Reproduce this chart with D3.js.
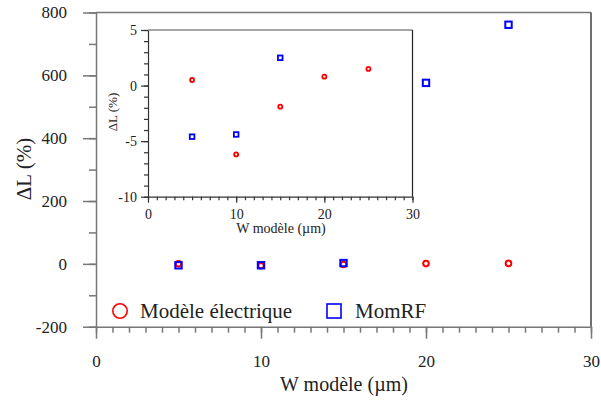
<!DOCTYPE html>
<html><head><meta charset="utf-8">
<script src="https://cdn.jsdelivr.net/npm/d3@7"></script>
<style>body{margin:0;background:#fff}svg{display:block}</style>
</head><body><svg id="c" width="601" height="401"></svg>
<script>
const widths = [5, 10, 15, 20, 25];
const electrique = [0.5, -6.2, -1.9, 0.8, 1.5];
const momrf = [-4.6, -4.4, 2.5, 576, 761];
const seriesNames = ["Modèle électrique", "MomRF"];
const mainYTicks = [-200, 0, 200, 400, 600, 800];
const xTicks = [0, 10, 20, 30];
const insetYTicks = [-10, -5, 0, 5];

const FONT = "'Liberation Serif', Tinos, 'Times New Roman', Times, serif";
const svg = d3.select("#c").attr("font-family", FONT);
const axisCol = "#777", frameCol = "#222";
const fmt = d => String(d);

// ---- main chart
const x = d3.scaleLinear().domain([0, 30]).range([96, 591]);
const y = d3.scaleLinear().domain([-200, 800]).range([326.7, 12.5]);

svg.append("line").attr("x1", x(0)).attr("x2", x(30)).attr("y1", y(800)).attr("y2", y(800)).attr("stroke", axisCol).attr("stroke-width", 1.5);
svg.append("line").attr("x1", x(30)).attr("x2", x(30)).attr("y1", y(800)).attr("y2", y(-200)).attr("stroke", frameCol).attr("stroke-width", 1.3);

const gy = svg.append("g").attr("transform", `translate(${x(0)},0)`);
gy.call(d3.axisLeft(y).tickValues(d3.range(-200, 801, 100)).tickSize(7).tickFormat(""));
gy.call(g => g.select(".domain").remove());
const gy2 = svg.append("g").attr("transform", `translate(${x(0)},0)`);
gy2.call(d3.axisLeft(y).tickValues(mainYTicks).tickSize(13).tickPadding(16).tickSizeOuter(0).tickFormat(fmt));
svg.selectAll("g").selectAll("line,path").attr("stroke", axisCol).attr("stroke-width", 1.5);
gy2.selectAll("text").attr("font-size", 17).attr("fill", "#222");

const gx = svg.append("g").attr("transform", `translate(0,${y(-200)})`);
gx.call(d3.axisBottom(x).tickValues(d3.range(0, 31, 1)).tickSize(6).tickFormat(""));
gx.call(g => g.select(".domain").remove());
const gx2 = svg.append("g").attr("transform", `translate(0,${y(-200)})`);
gx2.call(d3.axisBottom(x).tickValues(xTicks).tickSize(12).tickPadding(16).tickSizeOuter(0).tickFormat(fmt));
gx.selectAll("line").attr("stroke", axisCol).attr("stroke-width", 1.5);
gx2.selectAll("line,path").attr("stroke", axisCol).attr("stroke-width", 1.5);
gx2.selectAll("text").attr("font-size", 17).attr("fill", "#222");

svg.append("text").attr("x", 344).attr("y", 391).attr("text-anchor", "middle").attr("font-size", 20).attr("fill", "#222").text("W modèle (µm)");
svg.append("text").attr("transform", "translate(31,169) rotate(-90)").attr("text-anchor", "middle").attr("font-size", 21).attr("fill", "#222").text("ΔL (%)");

const pts = widths.map((w, i) => ({ w, e: electrique[i], m: momrf[i] }));
svg.append("g").selectAll("circle").data(pts).join("circle")
  .attr("cx", d => x(d.w)).attr("cy", d => y(d.e)).attr("r", 2.8)
  .attr("fill", "none").attr("stroke", "#f00").attr("stroke-width", 2);
svg.append("g").selectAll("rect").data(pts).join("rect")
  .attr("x", d => x(d.w) - 3.2).attr("y", d => y(d.m) - 3.2).attr("width", 6.4).attr("height", 6.4)
  .attr("fill", "none").attr("stroke", "#00f").attr("stroke-width", 2);

svg.append("circle").attr("cx", 120).attr("cy", 311).attr("r", 7.2).attr("fill", "none").attr("stroke", "#f00").attr("stroke-width", 1.6);
svg.append("text").attr("x", 140).attr("y", 318).attr("font-size", 21).attr("fill", "#222").text(seriesNames[0]);
svg.append("rect").attr("x", 327).attr("y", 304).attr("width", 14).attr("height", 14).attr("fill", "none").attr("stroke", "#00f").attr("stroke-width", 1.6);
svg.append("text").attr("x", 355).attr("y", 318).attr("font-size", 21).attr("fill", "#222").text(seriesNames[1]);

// ---- inset
const ix = d3.scaleLinear().domain([0, 30]).range([148, 412.5]);
const iy = d3.scaleLinear().domain([-10, 5]).range([196.7, 30]);
const ins = svg.append("g");
ins.append("rect").attr("x", ix(0)).attr("y", iy(5)).attr("width", ix(30) - ix(0)).attr("height", iy(-10) - iy(5)).attr("fill", "#fff");
ins.append("line").attr("x1", ix(0)).attr("x2", ix(30)).attr("y1", iy(5)).attr("y2", iy(5)).attr("stroke", "#888").attr("stroke-width", 1.5);
ins.append("line").attr("x1", ix(30)).attr("x2", ix(30)).attr("y1", iy(5)).attr("y2", iy(-10)).attr("stroke", frameCol).attr("stroke-width", 1.2);

const iy1 = ins.append("g").attr("transform", `translate(${ix(0)},0)`);
iy1.call(d3.axisLeft(iy).tickValues(d3.range(-10, 6, 1)).tickSize(4).tickFormat(""));
iy1.call(g => g.select(".domain").remove());
const iy2 = ins.append("g").attr("transform", `translate(${ix(0)},0)`);
iy2.call(d3.axisLeft(iy).tickValues(insetYTicks).tickSize(7).tickPadding(4).tickSizeOuter(0).tickFormat(fmt));
const ix1 = ins.append("g").attr("transform", `translate(0,${iy(-10)})`);
ix1.call(d3.axisBottom(ix).tickValues(d3.range(0, 31, 1)).tickSize(3.5).tickFormat(""));
ix1.call(g => g.select(".domain").remove());
const ix2 = ins.append("g").attr("transform", `translate(0,${iy(-10)})`);
ix2.call(d3.axisBottom(ix).tickValues(xTicks).tickSize(6).tickPadding(6).tickSizeOuter(0).tickFormat(fmt));
ins.selectAll("g").selectAll("line,path").attr("stroke", "#333").attr("stroke-width", 1.2);
ins.selectAll("g text").attr("font-size", 14).attr("fill", "#222");

ins.append("text").attr("x", 281).attr("y", 233).attr("text-anchor", "middle").attr("font-size", 14).attr("fill", "#222").text("W modèle (µm)");
ins.append("text").attr("transform", "translate(117,112) rotate(-90)").attr("text-anchor", "middle").attr("font-size", 13).attr("fill", "#222").text("ΔL (%)");

const inDom = v => v >= -10 && v <= 5;
ins.append("g").selectAll("circle").data(pts.filter(d => inDom(d.e))).join("circle")
  .attr("cx", d => ix(d.w)).attr("cy", d => iy(d.e)).attr("r", 2)
  .attr("fill", "none").attr("stroke", "#f00").attr("stroke-width", 1.8);
ins.append("g").selectAll("rect").data(pts.filter(d => inDom(d.m))).join("rect")
  .attr("x", d => ix(d.w) - 2.3).attr("y", d => iy(d.m) - 2.3).attr("width", 4.6).attr("height", 4.6)
  .attr("fill", "none").attr("stroke", "#00f").attr("stroke-width", 1.8);

svg.selectAll("g").attr("font-family", null);
svg.selectAll("text").attr("font-family", FONT);
</script></body></html>
